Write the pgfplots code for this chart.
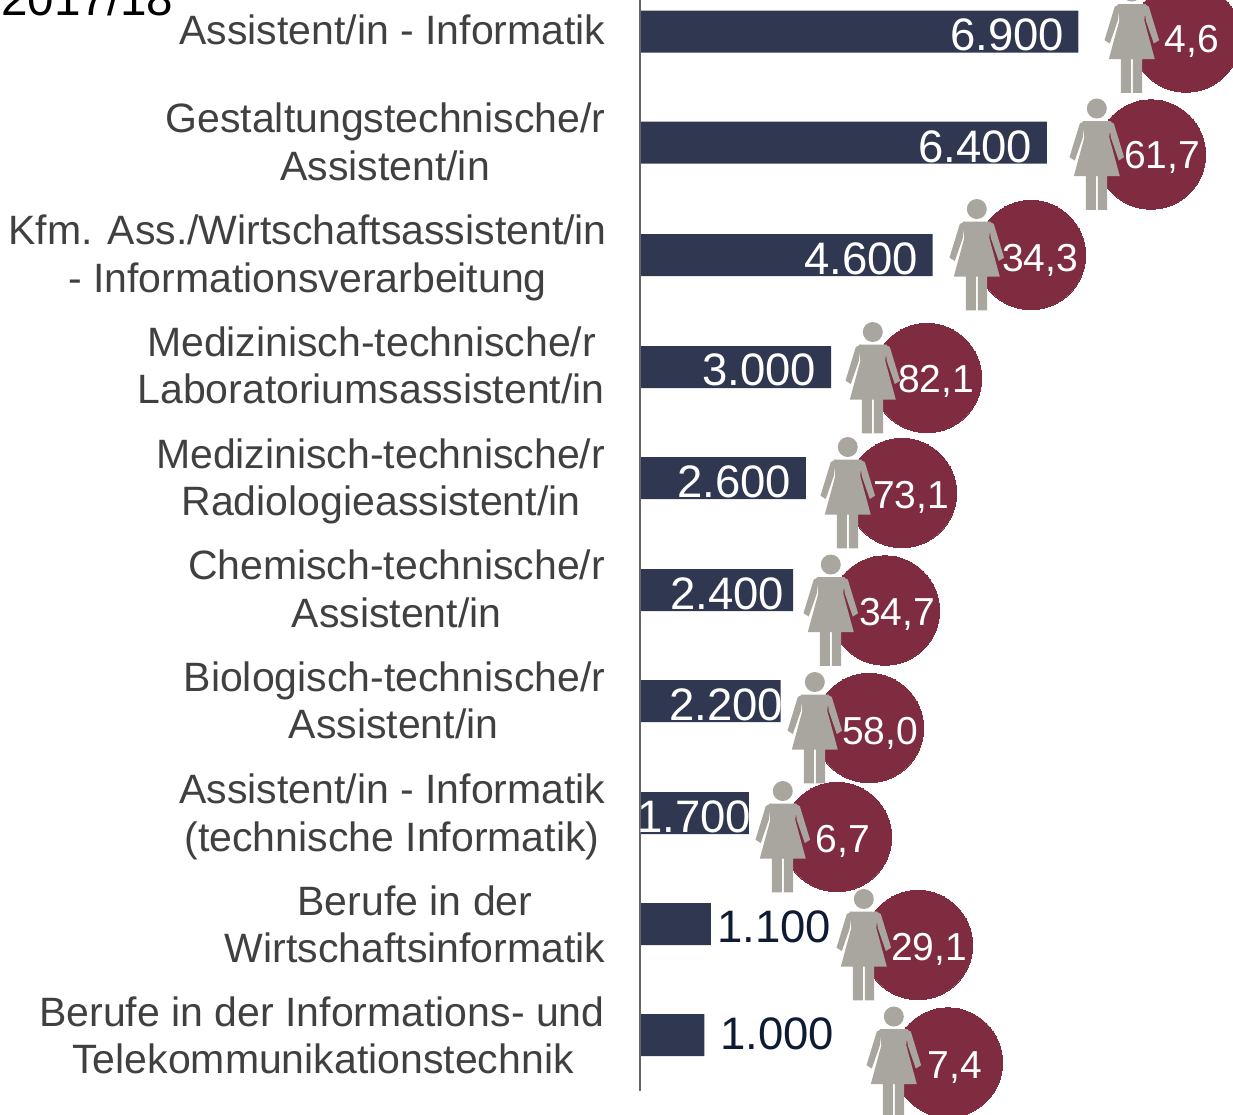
\documentclass[border=0pt]{standalone}
\usepackage{pgfplots}
\usepackage{pgfplotstable}
\usepackage{fontspec}
\setmainfont{Liberation Sans}
\pgfplotsset{compat=1.18}
\definecolor{barc}{HTML}{2F3850}
\definecolor{circ}{HTML}{7F2C40}
\definecolor{iconc}{HTML}{A8A69E}
\definecolor{labc}{HTML}{404040}
\definecolor{outc}{HTML}{0F1A35}
\definecolor{axc}{HTML}{666666}
\newcommand{\pt}[2]{\pgfqpoint{#1pt}{#2pt}}
\pgfdeclareplotmark{woman}{%
  \pgftransformxshift{-54.2pt}%
  \pgfpathcircle{\pt{0}{46}}{10pt}%
  \pgfusepathqfill
  \pgfsetcornersarced{\pt{2.5}{2.5}}%
  % body and legs
  \pgfpathmoveto{\pt{-14}{33.5}}%
  \pgfpathlineto{\pt{14}{33.5}}%
  \pgfpathlineto{\pt{12.5}{17}}%
  \pgfpathlineto{\pt{23}{-21.7}}%
  \pgfpathlineto{\pt{10.3}{-21.7}}%
  \pgfpathlineto{\pt{10.3}{-55.3}}%
  \pgfpathlineto{\pt{1}{-55.3}}%
  \pgfpathlineto{\pt{1}{-21.7}}%
  \pgfpathlineto{\pt{-1}{-21.7}}%
  \pgfpathlineto{\pt{-1}{-55.3}}%
  \pgfpathlineto{\pt{-11}{-55.3}}%
  \pgfpathlineto{\pt{-11}{-21.7}}%
  \pgfpathlineto{\pt{-23}{-21.7}}%
  \pgfpathlineto{\pt{-12.5}{17}}%
  \pgfpathclose
  \pgfusepathqfill
  % right arm
  \pgfpathmoveto{\pt{12}{33.5}}%
  \pgfpathlineto{\pt{17}{31}}%
  \pgfpathlineto{\pt{27.3}{-2.7}}%
  \pgfpathlineto{\pt{22}{-6}}%
  \pgfpathlineto{\pt{14}{17}}%
  \pgfpathclose
  \pgfusepathqfill
  % left arm
  \pgfpathmoveto{\pt{-12}{33.5}}%
  \pgfpathlineto{\pt{-17}{31}}%
  \pgfpathlineto{\pt{-27.3}{-2.7}}%
  \pgfpathlineto{\pt{-22}{-6}}%
  \pgfpathlineto{\pt{-14}{17}}%
  \pgfpathclose
  \pgfusepathqfill
}
\pgfplotstableread{
y value
31.5 6900
142.5 6400
255 4600
367 3000
478 2600
590 2400
701 2200
813 1700
924 1100
1035 1000
}\bars
\pgfplotstableread{
x y share
8596 37.5 4.6
8044 154.5 61.7
6151 255 34.3
4511 378 82.1
4116 493 73.1
3848 610.5 34.7
3596 728 58.0
3091 837 6.7
4369 945 29.1
4842 1062.5 7.4
}\circles
\newcommand{\Lb}[3]{\node[anchor=base,inner sep=0pt,text=labc,font=\fontsize{41}{48}\selectfont] at (#1pt,-#2pt) {#3};}
\newcommand{\Vl}[4]{\node[anchor=base,inner sep=0pt,text=#4,font=\fontsize{45.5}{50}\selectfont] at (#1pt,-#2pt) {#3};}
\newcommand{\Cl}[3]{\node[anchor=base,inner sep=0pt,text=white,font=\fontsize{39}{44}\selectfont] at (#1pt,-#2pt) {#3};}
\begin{document}
\begin{tikzpicture}[x=1pt,y=1pt]
\path[use as bounding box] (0,0) rectangle (1233pt,-1114pt);
\clip (0,0) rectangle (1233pt,-1114pt);
\begin{axis}[
  at={(0,0)},anchor=north west,
  scale only axis,width=1233pt,height=1114pt,
  xmin=-10110.4,xmax=9337.5,ymin=0,ymax=1114,
  y dir=reverse,
  axis lines=none,
]
\addplot[xbar,bar shift=0pt,bar width=42pt,fill=barc,draw=none] table[x=value,y=y] {\bars};
\addplot[draw=axc,line width=2pt,forget plot] coordinates {(-16,0) (-16,1091)};
\addplot[only marks,mark=*,mark size=54.7pt,mark options={fill=circ,draw=circ,line width=0pt}] table[x=x,y=y] {\circles};
\addplot[only marks,mark=woman,mark options={fill=iconc,draw=none}] table[x=x,y=y] {\circles};
\end{axis}
\node[anchor=base west,inner sep=0pt,text=black,font=\fontsize{47.6}{50}\selectfont] at (1pt,-15pt) {2017/18};
\Lb{392.5}{44}{Assistent/in - Informatik}
\Lb{385.5}{132}{Gestaltungstechnische/r}
\Lb{385}{180}{Assistent/in}
\Lb{307.5}{244}{Kfm. Ass./Wirtschaftsassistent/in}
\Lb{307.5}{292}{- Informationsverarbeitung}
\Lb{371.5}{356}{Medizinisch-technische/r}
\Lb{371}{403}{Laboratoriumsassistent/in}
\Lb{380.5}{468}{Medizinisch-technische/r}
\Lb{381}{515}{Radiologieassistent/in}
\Lb{396.5}{579}{Chemisch-technische/r}
\Lb{396.5}{627}{Assistent/in}
\Lb{394.5}{691}{Biologisch-technische/r}
\Lb{393.5}{738}{Assistent/in}
\Lb{392.5}{803}{Assistent/in - Informatik}
\Lb{392}{851}{(technische Informatik)}
\Lb{415}{915}{Berufe in der}
\Lb{415}{962}{Wirtschaftsinformatik}
\Lb{322}{1026}{Berufe in der Informations- und}
\Lb{323}{1073}{Telekommunikationstechnik}
\Vl{1007}{50}{6.900}{white}
\Vl{975}{162}{6.400}{white}
\Vl{861}{274}{4.600}{white}
\Vl{759}{385}{3.000}{white}
\Vl{734}{497}{2.600}{white}
\Vl{727}{609}{2.400}{white}
\Vl{726}{720}{2.200}{white}
\Vl{694}{832}{1.700}{white}
\Vl{774}{942}{1.100}{outc}
\Vl{777}{1049}{1.000}{outc}
\Cl{1192}{52}{4,6}
\Cl{1162}{168}{61,7}
\Cl{1040}{271}{34,3}
\Cl{936}{392}{82,1}
\Cl{911}{508}{73,1}
\Cl{897}{625}{34,7}
\Cl{880}{744}{58,0}
\Cl{843}{852}{6,7}
\Cl{929}{960}{29,1}
\Cl{955}{1078}{7,4}
\end{tikzpicture}
\end{document}
